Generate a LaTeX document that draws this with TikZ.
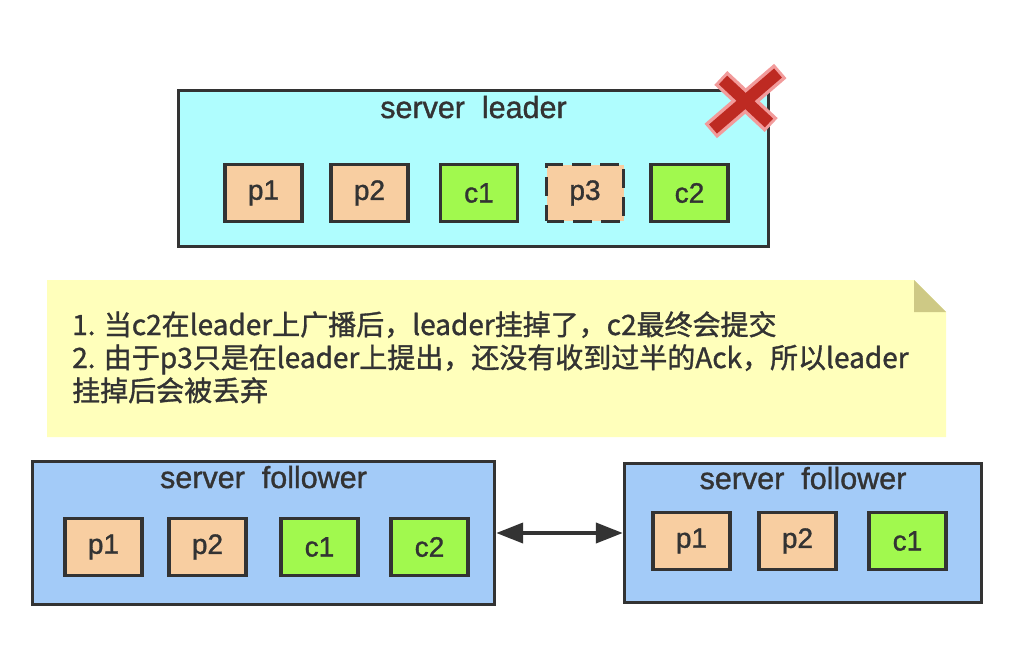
\documentclass[tikz,border=0pt]{standalone}
\usepackage{fontspec}
\setmainfont{Liberation Sans}
\newfontfamily\cjk[FakeBold=1.2]{Noto Sans CJK SC}
\newfontfamily\latinmid[FakeBold=1.2]{Liberation Sans}
\usetikzlibrary{arrows.meta}
\definecolor{ink}{HTML}{333333}
\definecolor{leaderfill}{HTML}{AFFDFE}
\definecolor{followfill}{HTML}{A3CBF8}
\definecolor{peach}{HTML}{F8CEA1}
\definecolor{lime}{HTML}{A1F94E}
\definecolor{notefill}{HTML}{FFFFBB}
\definecolor{foldfill}{HTML}{CEC985}
\definecolor{xred}{HTML}{BE2A22}
\definecolor{xpink}{HTML}{F29B9B}
\begin{document}
\begin{tikzpicture}[x=1pt,y=-1pt,
  server/.style={draw=ink,line width=3.4pt,rectangle,inner sep=0pt},
  item/.style={draw=ink,line width=3.4pt,rectangle,inner sep=0pt,minimum width=77pt,minimum height=56.5pt,
    text=ink,font=\latinmid\fontsize{28}{32}\selectfont},
  ppp/.style={item,fill=peach},
  ccc/.style={item,fill=lime},
  title/.style={anchor=base,text=ink,inner sep=0pt,font=\latinmid\fontsize{30.5}{34}\selectfont},
  notetext/.style={anchor=base west,text=ink,inner sep=0pt,font=\cjk\fontsize{28}{33}\selectfont},
  link/.style={draw=ink,line width=4pt,{Triangle[length=27pt,width=20pt]}-{Triangle[length=27pt,width=20pt]}}
]
\useasboundingbox (0,0) rectangle (1030,662);

% leader
\node[server,fill=leaderfill,minimum width=590pt,minimum height=156pt] (leader) at (473.5,168.5) {};
\node[title] (leadertitle) at (473.5,118) {server~~leader};
\node[ppp] (lp1) at (263.5,193) {p1};
\node[ppp] (lp2) at (369.5,193) {p2};
\node[ccc] (lc1) at (479,193) {c1};
\node[ppp,dash pattern=on 19pt off 9pt,dash phase=1.5pt] (lp3) at (585,193) {p3};
\node[ccc] (lc2) at (689.5,193) {c2};

% cross
\draw[xpink,line width=19pt,shorten <=-3pt,shorten >=-3pt] (778,73) -- (713,129);
\draw[xpink,line width=19pt,shorten <=-3pt,shorten >=-3pt] (723,80) -- (769,123);
\draw[xred,line width=12pt] (778,73) -- (713,129);
\draw[xred,line width=12pt] (723,80) -- (769,123);

% note
\fill[notefill] (47,280) -- (914,280) -- (946,312) -- (946,437) -- (47,437) -- cycle;
\fill[foldfill] (914,280) -- (914,312) -- (946,312) -- cycle;
\node[notetext] (n1) at (72,335) {1. 当c2在leader上广播后，leader挂掉了，c2最终会提交};
\node[notetext] (n2) at (72,368) {2. 由于p3只是在leader上提出，还没有收到过半的Ack，所以leader};
\node[notetext] (n3) at (72,401) {挂掉后会被丢弃};

% follower 1
\node[server,fill=followfill,minimum width=462pt,minimum height=143pt] (f1) at (263.5,533) {};
\node[title] (f1title) at (263.5,488) {server~~follower};
\node[ppp] (f1p1) at (103.5,547) {p1};
\node[ppp] (f1p2) at (207.5,547) {p2};
\node[ccc] (f1c1) at (319.5,547) {c1};
\node[ccc] (f1c2) at (429.5,547) {c2};

% follower 2
\node[server,fill=followfill,minimum width=357pt,minimum height=139pt] (f2) at (803,533) {};
\node[title] (f2title) at (803,489) {server~~follower};
\node[ppp] (f2p1) at (691.5,541) {p1};
\node[ppp] (f2p2) at (797.5,541) {p2};
\node[ccc] (f2c1) at (907.5,541) {c1};

\draw[link] (f1.east) -- (f2.west);
\end{tikzpicture}
\end{document}
